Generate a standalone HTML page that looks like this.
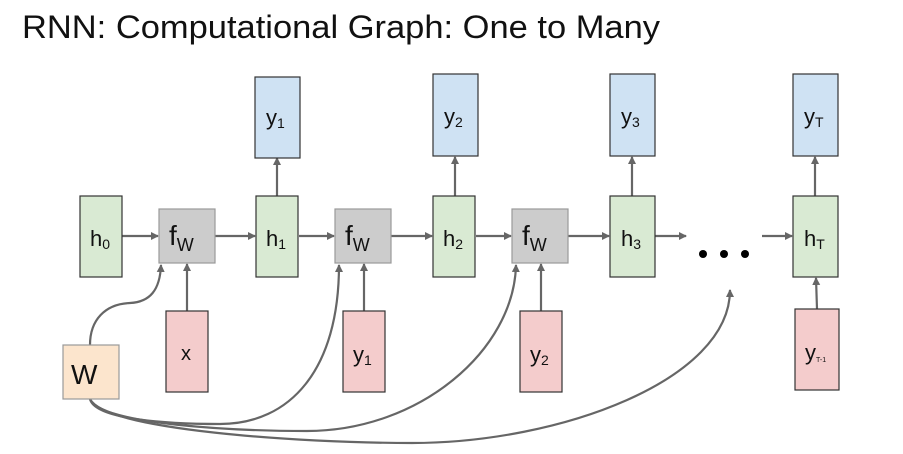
<!DOCTYPE html>
<html><head><meta charset="utf-8"><style>
body{margin:0;background:#fff;width:903px;height:454px;overflow:hidden}
svg{display:block}
text{font-family:"Liberation Sans","DejaVu Sans",sans-serif;fill:#111}
</style></head><body>
<svg width="903" height="454" viewBox="0 0 903 454" xmlns="http://www.w3.org/2000/svg">
<defs><marker id="a" markerWidth="10" markerHeight="10" refX="7" refY="5" orient="auto" markerUnits="userSpaceOnUse"><path d="M0,1 L8,5 L0,9 Z" fill="#666"/></marker></defs>
<text x="22" y="38" font-size="32" textLength="638" lengthAdjust="spacingAndGlyphs">RNN: Computational Graph: One to Many</text>
<g stroke="#666" stroke-width="2.2" fill="none" marker-end="url(#a)">
<line x1="122" y1="236" x2="158" y2="236"/>
<line x1="215" y1="236" x2="255" y2="236"/>
<line x1="299" y1="236" x2="334" y2="236"/>
<line x1="391" y1="236" x2="432" y2="236"/>
<line x1="476" y1="236" x2="511" y2="236"/>
<line x1="568" y1="236" x2="609" y2="236"/>
<line x1="655" y1="236" x2="686" y2="236"/>
<line x1="762" y1="236" x2="792" y2="236"/>
<line x1="277" y1="196" x2="277" y2="158"/>
<line x1="455" y1="196" x2="455" y2="157"/>
<line x1="632" y1="196" x2="632" y2="157"/>
<line x1="815" y1="196" x2="815" y2="157"/>
<line x1="187" y1="311" x2="187" y2="264"/>
<line x1="364" y1="311" x2="364" y2="264"/>
<line x1="541" y1="311" x2="541" y2="264"/>
<line x1="817" y1="309" x2="816" y2="278"/>
<path d="M90,345 C90,320 105,304 130,303 C150,302 160,290 161,265"/>
<path d="M90,399 C95,420 170,424 220,424 C290,424 339,370 339,265"/>
<path d="M90,399 C100,425 240,431 307,431 C420,431 514,350 516,265"/>
<path d="M90,399 C105,430 300,443 412,443 C560,443 730,380 730,290"/>
</g>
<g stroke="#333" stroke-width="1.2">
<rect x="80" y="196" width="42" height="81" fill="#d9ead3"/>
<rect x="256" y="196" width="42" height="81" fill="#d9ead3"/>
<rect x="433" y="196" width="42" height="81" fill="#d9ead3"/>
<rect x="610" y="196" width="45" height="81" fill="#d9ead3"/>
<rect x="793" y="196" width="45" height="81" fill="#d9ead3"/>
<rect x="255" y="77" width="45" height="81" fill="#cfe2f3"/>
<rect x="433" y="74" width="45" height="82" fill="#cfe2f3"/>
<rect x="610" y="74" width="45" height="82" fill="#cfe2f3"/>
<rect x="793" y="74" width="45" height="82" fill="#cfe2f3"/>
<rect x="166" y="311" width="42" height="81" fill="#f4cccc"/>
<rect x="343" y="311" width="42" height="81" fill="#f4cccc"/>
<rect x="520" y="311" width="42" height="81" fill="#f4cccc"/>
<rect x="795" y="309" width="44" height="81" fill="#f4cccc"/>
</g>
<g stroke="#999" stroke-width="1.2">
<rect x="159" y="209" width="56" height="54" fill="#cccccc"/>
<rect x="335" y="209" width="56" height="54" fill="#cccccc"/>
<rect x="512" y="209" width="56" height="54" fill="#cccccc"/>
<rect x="63" y="345" width="56" height="54" fill="#fce5cd"/>
</g>
<g fill="#000"><circle cx="703" cy="254" r="4"/><circle cx="724" cy="254" r="4"/><circle cx="745" cy="254" r="4"/></g>
<g font-size="22">
<text x="90" y="246">h<tspan font-size="14" dy="3">0</tspan></text>
<text x="266" y="246">h<tspan font-size="14" dy="3">1</tspan></text>
<text x="443" y="246">h<tspan font-size="14" dy="3">2</tspan></text>
<text x="621" y="246">h<tspan font-size="14" dy="3">3</tspan></text>
<text x="804" y="246">h<tspan font-size="14" dy="3">T</tspan></text>
<text x="266" y="125">y<tspan font-size="14" dy="3">1</tspan></text>
<text x="444" y="124">y<tspan font-size="14" dy="3">2</tspan></text>
<text x="621" y="124">y<tspan font-size="14" dy="3">3</tspan></text>
<text x="804" y="124">y<tspan font-size="14" dy="3">T</tspan></text>
<text x="181" y="360" font-size="20">x</text>
<text x="353" y="362">y<tspan font-size="14" dy="3">1</tspan></text>
<text x="530" y="362">y<tspan font-size="14" dy="3">2</tspan></text>
<text x="805" y="360">y<tspan font-size="7" dy="2">T-1</tspan></text>
<text x="169" y="245" font-size="28">f<tspan font-size="18" dy="6">W</tspan></text>
<text x="345" y="245" font-size="28">f<tspan font-size="18" dy="6">W</tspan></text>
<text x="522" y="245" font-size="28">f<tspan font-size="18" dy="6">W</tspan></text>
<text x="71" y="384" font-size="28">W</text>
</g>
</svg>
</body></html>
